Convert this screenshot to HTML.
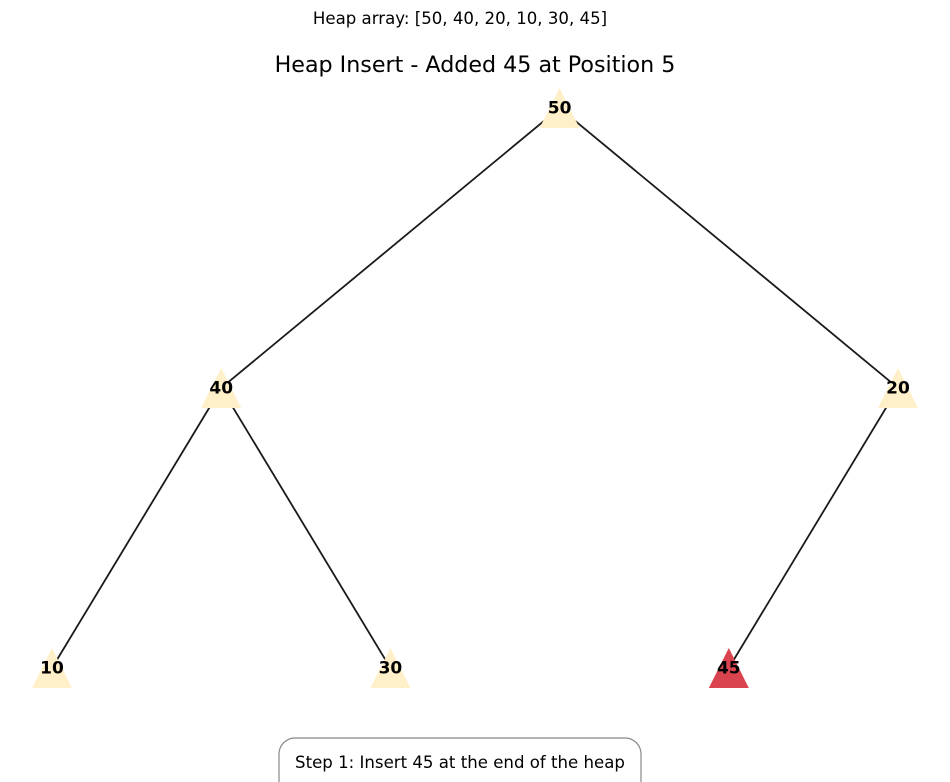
<!DOCTYPE html>
<html><head><meta charset="utf-8"><style>
html,body{margin:0;padding:0;background:#fff;}
svg{display:block;font-family:"DejaVu Sans","Liberation Sans",sans-serif;}
</style></head><body>
<svg id="chart" width="950" height="782" viewBox="0 0 950 782">
<text x="460" y="24" font-size="16.6" text-anchor="middle" fill="#000">Heap array: [50, 40, 20, 10, 30, 45]</text>
<text x="475" y="72" font-size="22.2" text-anchor="middle" fill="#000">Heap Insert - Added 45 at Position 5</text>
<g id="edges"></g>
<g id="nodes"></g>
<rect x="279" y="738" width="362" height="60" rx="16" ry="16" fill="#fff" stroke="#888" stroke-width="1.2"/>
<text x="460" y="768" font-size="16.6" text-anchor="middle" fill="#000">Step 1: Insert 45 at the end of the heap</text>
</svg>
<script>
const heapValues = [50, 40, 20, 10, 30, 45];
const highlightIndex = 5;
const nodeSlotX = [1.5, 0.5, 2.5, 0, 1, 2];
const nodeDepth = [0, 1, 1, 2, 2, 2];
function xScale(v){ return 52 + v * 338.4; }
function yScale(d){ return 108 + d * 280; }
const NS = "http://www.w3.org/2000/svg";
const eg = document.getElementById('edges');
const ng = document.getElementById('nodes');
for (let i = 1; i < heapValues.length; i++) {
  const p = Math.floor((i - 1) / 2);
  const l = document.createElementNS(NS, 'line');
  l.setAttribute('x1', xScale(nodeSlotX[p])); l.setAttribute('y1', yScale(nodeDepth[p]));
  l.setAttribute('x2', xScale(nodeSlotX[i])); l.setAttribute('y2', yScale(nodeDepth[i]));
  l.setAttribute('stroke', '#1a1a1a'); l.setAttribute('stroke-width', '1.8');
  
  
  eg.appendChild(l);
}
for (let i = 0; i < heapValues.length; i++) {
  const cx = xScale(nodeSlotX[i]), cy = yScale(nodeDepth[i]);
  const t = document.createElementNS(NS, 'polygon');
  t.setAttribute('points', `${cx},${cy-20} ${cx-20},${cy+20} ${cx+20},${cy+20}`);
  t.setAttribute('fill', i === highlightIndex ? '#d9444f' : '#fff0c9');
  
  
  ng.appendChild(t);
  const tx = document.createElementNS(NS, 'text');
  tx.setAttribute('x', cx); tx.setAttribute('y', cy + 5.5);
  tx.setAttribute('text-anchor', 'middle'); tx.setAttribute('font-size', '17');
  tx.setAttribute('font-weight', 'bold'); tx.setAttribute('fill', '#000');
  tx.textContent = heapValues[i];
  
  
  ng.appendChild(tx);
}
</script>
</body></html>
